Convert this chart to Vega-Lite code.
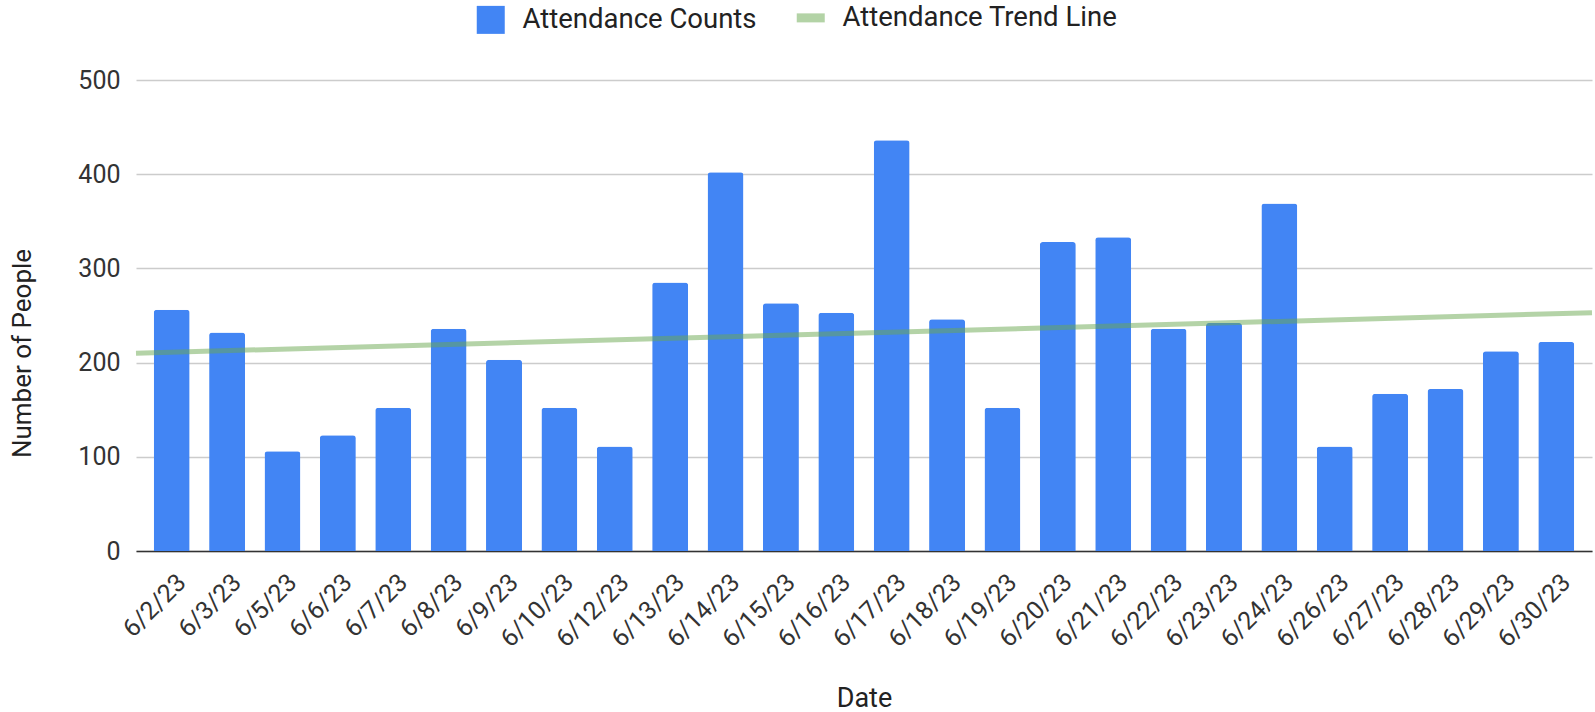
{
  "$schema": "https://vega.github.io/schema/vega-lite/v6.json",
  "autosize": "none",
  "width": 1456,
  "height": 471,
  "padding": {"left": 136, "top": 80, "right": 3, "bottom": 161},
  "background": "white",
  "config": {
    "font": "Roboto",
    "view": {"stroke": null},
    "axis": {"labelFont": "Roboto", "titleFont": "Roboto", "labelColor": "#333", "titleColor": "#222", "titleFontWeight": "normal"}
  },
  "datasets": {
    "attendance": [
      {"date": "6/2/23", "series": "Attendance Counts", "count": 256},
      {"date": "6/3/23", "series": "Attendance Counts", "count": 232},
      {"date": "6/5/23", "series": "Attendance Counts", "count": 106},
      {"date": "6/6/23", "series": "Attendance Counts", "count": 123},
      {"date": "6/7/23", "series": "Attendance Counts", "count": 152},
      {"date": "6/8/23", "series": "Attendance Counts", "count": 236},
      {"date": "6/9/23", "series": "Attendance Counts", "count": 203},
      {"date": "6/10/23", "series": "Attendance Counts", "count": 152},
      {"date": "6/12/23", "series": "Attendance Counts", "count": 111},
      {"date": "6/13/23", "series": "Attendance Counts", "count": 285},
      {"date": "6/14/23", "series": "Attendance Counts", "count": 402},
      {"date": "6/15/23", "series": "Attendance Counts", "count": 263},
      {"date": "6/16/23", "series": "Attendance Counts", "count": 253},
      {"date": "6/17/23", "series": "Attendance Counts", "count": 436},
      {"date": "6/18/23", "series": "Attendance Counts", "count": 246},
      {"date": "6/19/23", "series": "Attendance Counts", "count": 152},
      {"date": "6/20/23", "series": "Attendance Counts", "count": 328},
      {"date": "6/21/23", "series": "Attendance Counts", "count": 333},
      {"date": "6/22/23", "series": "Attendance Counts", "count": 236},
      {"date": "6/23/23", "series": "Attendance Counts", "count": 242},
      {"date": "6/24/23", "series": "Attendance Counts", "count": 369},
      {"date": "6/26/23", "series": "Attendance Counts", "count": 111},
      {"date": "6/27/23", "series": "Attendance Counts", "count": 167},
      {"date": "6/28/23", "series": "Attendance Counts", "count": 172},
      {"date": "6/29/23", "series": "Attendance Counts", "count": 212},
      {"date": "6/30/23", "series": "Attendance Counts", "count": 222}
    ],
    "trend": [
      {"series": "Attendance Trend Line", "start": 210, "end": 253}
    ]
  },
  "layer": [
    {
      "data": {"name": "attendance"},
      "mark": {"type": "bar", "cornerRadiusTopLeft": 3, "cornerRadiusTopRight": 3},
      "encoding": {
        "x": {
          "field": "date", "type": "nominal", "sort": null,
          "scale": {"paddingInner": 0.35, "paddingOuter": 0.32},
          "axis": {
            "title": "Date", "titleFontSize": 27, "titleY": 147, "titleBaseline": "middle",
            "labelAngle": -45, "labelAlign": "right", "labelBaseline": "middle",
            "labelFontSize": 25, "labelPadding": 27, "labelOffset": 10,
            "ticks": false, "domain": true, "domainColor": "#333", "domainWidth": 1.5,
            "grid": false
          }
        },
        "y": {
          "field": "count", "type": "quantitative",
          "scale": {"domain": [0, 500], "nice": false},
          "axis": {
            "title": "Number of People", "titleFontSize": 26, "titleAngle": -90,
            "titleX": -106, "titleY": 273, "titleBaseline": "alphabetic", "titleAlign": "center",
            "values": [0, 100, 200, 300, 400, 500],
            "labelFontSize": 25, "labelPadding": 16,
            "ticks": false, "domain": false,
            "grid": true, "gridColor": "#cccccc", "gridWidth": 1.5
          }
        },
        "color": {
          "field": "series", "type": "nominal",
          "scale": {"domain": ["Attendance Counts", "Attendance Trend Line"], "range": ["#4285f4", "#6aa84f"]},
          "legend": {
            "title": null, "orient": "none", "legendX": 341, "legendY": -76,
            "direction": "horizontal", "padding": 0,
            "labelFont": "Roboto", "labelFontSize": 27.5, "labelColor": "#222", "labelLimit": 600,
            "symbolSize": 784, "labelOffset": 18, "columnPadding": 21,
            "encode": {
              "symbols": {
                "update": {
                  "shape": {"signal": "datum.value === 'Attendance Counts' ? 'square' : 'stroke'"},
                  "fill": {"scale": "color", "field": "value"},
                  "stroke": {"scale": "color", "field": "value"},
                  "strokeWidth": {"signal": "datum.value === 'Attendance Counts' ? 0 : 9"},
                  "opacity": {"signal": "datum.value === 'Attendance Counts' ? 1 : 0.5"}
                }
              }
            }
          }
        }
      }
    },
    {
      "data": {"name": "trend"},
      "mark": {"type": "rule", "strokeWidth": 5, "opacity": 0.5},
      "encoding": {
        "x": {"value": 0},
        "x2": {"value": "width"},
        "y": {"field": "start", "type": "quantitative", "axis": {"title": "Number of People"}},
        "y2": {"field": "end"},
        "color": {"field": "series", "type": "nominal"}
      }
    }
  ]
}
